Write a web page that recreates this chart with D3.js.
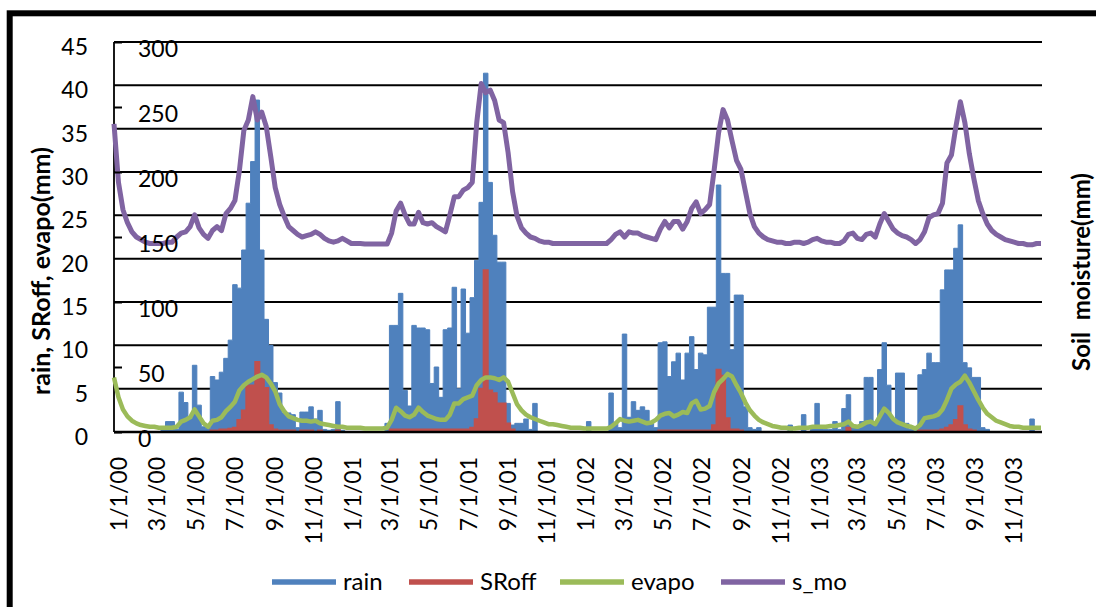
<!DOCTYPE html>
<html>
<head>
<meta charset="utf-8">
<script src="https://cdn.jsdelivr.net/npm/d3@7"></script>
<style>
  html, body { margin: 0; padding: 0; background: #fff; }
  svg { display: block; font-family: Lato, "Open Sans", sans-serif; }
</style>
</head>
<body>
<svg id="chart" width="1096" height="607"></svg>
<script>
// Weekly water-balance series, starting 1 Jan 2000, one value per week.
// rain, SRoff and evapo are in mm (left axis); s_mo is soil moisture in mm (right axis).
const rain2000 = [0,0,0,0,0,0,0,0,0,0,0,0.3,1.2,1.2,0.3,4.6,3.4,1.5,7.7,3.1,0.6,0.4,6.4,6.0,6.9,8.5,10.6,17.0,16.6,21,26.4,31.2,38.3,21,13,10.0,5.7,4.5,2.2,2.2,2.0,0.5,2.3,2.3,2.9,1.5,2.5,0.3,0.2,0.3,3.5,0.2,0];
const rain2001 = [0,0,0,0,0,0,0,0,1.0,12.3,12.3,16.0,4.8,3.0,12.3,12.0,12.0,11.8,5.6,7.5,4.0,11.8,12,16.7,5,16.5,11.4,15.5,19.8,26.5,41.4,28.8,22.7,19.6,19.6,3.3,0.8,1.0,1.0,1.5,0.3,3.3,0,0,0,0,0,0,0,0,0,0];
const rain2002 = [0,1.2,0,0,0,0,4.5,1.0,0.5,11.3,1.7,3.5,2.5,2.9,2.5,1.0,0.5,10.3,10.4,6.4,8.1,9.1,6.0,9.1,11.0,7.2,9.1,8.9,14.4,14.4,28.5,18.3,18.3,9.5,15.8,15.8,2.9,0.5,0.3,0.5,0,0,0,0,0,0,0.8,0,0,2.0,0];
const rain2003 = [0.5,3.3,0.5,0.3,0.3,1.2,0.3,2.7,4.3,0.5,0.5,1.2,6.3,6.3,1.2,7.2,10.3,5.4,1.4,6.8,6.8,1.0,0.3,0.5,6.6,7.2,9.1,8.0,8.0,16.4,18.7,18.7,21.2,23.9,8.0,7.4,6.3,6.3,0.5,0.3,0,0,0,0,0,0,0,0,0,1.5,0,0];

const sroff2000 = [0,0,0,0,0,0,0,0,0,0,0,0,0,0,0,0,0,0,0,0,0,0,0.2,0.2,0.3,0.3,0.4,0.5,1.4,2.5,5.4,5.4,8.1,6.5,5.1,0.8,0.3,0.2,0.2,0.2,0.2,0,0.2,0.2,0.2,0,0.2,0,0,0,0.2,0,0];
const sroff2001 = [0,0,0,0,0,0,0,0,0,0.3,0.3,0.3,0.3,0.3,0.3,0.3,0.3,0.3,0.3,0.3,0.3,0.3,0.3,0.3,0.3,0.3,0.3,0.5,1.5,5.0,18.7,4.8,4.5,3.3,3.3,1.0,0.3,0,0,0,0,0,0,0,0,0,0,0,0,0,0,0];
const sroff2002 = [0,0,0,0,0,0,0,0,0,0,0,0,0,0,0,0,0,0.2,0.2,0.2,0.2,0.2,0.2,0.2,0.2,0.2,0.2,0.2,0.2,0.8,7.2,6.5,1.6,0.3,0.3,0.2,0,0,0,0,0,0,0,0,0,0,0,0,0,0,0];
const sroff2003 = [0,0,0,0,0,0,0,0,0.5,0,0,0,0,0,0,0,0,0,0,0,0,0,0,0,0.2,0.2,0.2,0.2,0.2,0.3,0.5,0.8,1.4,3.0,0.8,0.3,0.2,0,0,0,0,0,0,0,0,0,0,0,0,0,0,0];

const evapo2000 = [6.3,4.0,2.6,1.8,1.3,1.0,0.8,0.7,0.6,0.6,0.5,0.5,0.5,0.5,0.6,1.2,1.4,1.7,2.6,1.8,1.0,0.6,1.3,1.4,1.7,2.4,2.9,3.5,4.8,5.4,5.8,6.1,6.4,6.6,6.3,5.6,4.7,3.2,2.4,1.8,1.6,1.4,1.3,1.3,1.2,1.3,1.0,0.9,0.8,0.7,0.6,0.6,0.5];
const evapo2001 = [0.5,0.5,0.5,0.4,0.4,0.4,0.4,0.4,0.5,1.4,2.8,2.4,1.9,1.7,2.0,2.8,2.3,1.9,1.7,1.5,1.4,1.4,2.0,3.3,3.3,3.8,4.0,4.2,5.4,6.0,6.3,6.3,6.2,6.0,6.3,5.8,4.5,3.2,2.5,2.0,1.7,1.5,1.3,1.1,0.9,0.9,0.8,0.7,0.6,0.5,0.5,0.5];
const evapo2002 = [0.4,0.4,0.4,0.4,0.4,0.4,0.6,1.0,1.5,1.3,1.2,1.3,1.4,1.2,1.0,1.1,1.4,1.9,2.1,2.2,1.8,2.0,2.3,2.2,3.3,3.6,2.6,2.7,3.0,4.6,5.6,6.1,6.7,6.4,5.4,4.5,3.4,2.5,1.9,1.4,1.1,0.9,0.7,0.6,0.5,0.5,0.4,0.4,0.5,0.5,0.5];
const evapo2003 = [0.6,0.6,0.6,0.6,0.7,0.7,0.8,0.9,1.2,0.7,0.6,0.8,1.1,1.2,0.9,1.8,2.7,2.2,1.5,1.1,0.9,0.7,0.6,0.4,0.8,1.6,1.7,1.8,2.0,2.6,3.7,5.0,5.5,5.8,6.5,5.7,4.7,3.7,2.8,2.1,1.7,1.3,1.1,0.9,0.7,0.6,0.6,0.5,0.5,0.5,0.5,0.5];

const smo2000 = [237,192,171,161,154,150,148,146,145,145,145,145,146,146,150,153,154,158,167,157,152,149,155,158,155,168,172,178,201,232,240,258,240,246,235,212,188,175,166,158,155,152,150,151,152,154,152,149,147,146,147,149,147];
const smo2001 = [145,145,145,144.6,144.6,144.6,144.6,144.6,144.6,153,170,176,167,160,160,169,161,160,161,158,156,154,167,181,181,186,188,192,238,268,261,263,255,240,238,215,185,166,157,153,150,149,147,146,146,145,145,145,145,145,145,145];
const smo2002 = [145,145,145,145,145,145,148,152,154,150,154,153,153,151,150,149,148,156,162,157,162,162,156,162,172,177,168,171,175,201,230,248,240,224,209,202,185,168,158,153,150,148,147,146,146,145,145,146,146,145,146];
const smo2003 = [148,149,147,146,146,145,145,147,152,153,149,148,152,153,150,160,168,162,156,153,151,150,148,145,148,154,165,167,168,176,207,213,235,254,238,214,195,178,168,160,155,152,150,148,147,146,145,145,144,144,145,145];

const xTickLabels = ["1/1/00","3/1/00","5/1/00","7/1/00","9/1/00","11/1/00",
                     "1/1/01","3/1/01","5/1/01","7/1/01","9/1/01","11/1/01",
                     "1/1/02","3/1/02","5/1/02","7/1/02","9/1/02","11/1/02",
                     "1/1/03","3/1/03","5/1/03","7/1/03","9/1/03","11/1/03"];
const leftTicks = [0,5,10,15,20,25,30,35,40,45];
const rightTicks = [0,50,100,150,200,250,300];
const seriesNames = ["rain","SRoff","evapo","s_mo"];
const seriesColors = ["#4F81BD","#C0504D","#9BBB59","#8064A2"];

const rain = [].concat(rain2000, rain2001, rain2002, rain2003);
const sroff = [].concat(sroff2000, sroff2001, sroff2002, sroff2003);
const evapo = [].concat(evapo2000, evapo2001, evapo2002, evapo2003);
const smo = [].concat(smo2000, smo2001, smo2002, smo2003);

const start = new Date(2000, 0, 1);
const dates = rain.map((_, i) => d3.timeDay.offset(start, 7 * i));
const rows = dates.map((d, i) => ({ date: d, rain: rain[i], sroff: sroff[i], evapo: evapo[i], smo: smo[i] }));

const plot = { left: 114, right: 1041, gridRight: 1042, top: 42, bottom: 432 };
const svg = d3.select("#chart");

const x = d3.scaleTime().domain([dates[0], dates[dates.length - 1]]).range([plot.left, plot.right]);
const yL = d3.scaleLinear().domain([0, 45]).range([plot.bottom, plot.top]);
const yR = d3.scaleLinear().domain([0, 300]).range([plot.bottom, plot.top]);

// outer chart frame (only its left and top edges fall inside the page)
svg.append("rect")
  .attr("x", 9.7).attr("y", 13.3).attr("width", 1300).attr("height", 800)
  .attr("fill", "none").attr("stroke", "#000").attr("stroke-width", 6);

// horizontal gridlines on the left-axis ticks
svg.append("g").selectAll("line")
  .data(leftTicks.filter(t => t > 0))
  .join("line")
  .attr("x1", plot.left).attr("x2", plot.gridRight)
  .attr("y1", d => yL(d)).attr("y2", d => yL(d))
  .attr("stroke", "#000").attr("stroke-width", 2);

// rain and surface runoff as stepped columns
const stepArea = key => d3.area()
  .curve(d3.curveStep)
  .x(d => x(d.date))
  .y0(yL(0))
  .y1(d => yL(d[key]));

svg.append("path").datum(rows)
  .attr("d", stepArea("rain"))
  .attr("fill", seriesColors[0]).attr("stroke", seriesColors[0]).attr("stroke-width", 1);

svg.append("path").datum(rows)
  .attr("d", stepArea("sroff"))
  .attr("fill", seriesColors[1]).attr("stroke", seriesColors[1]).attr("stroke-width", 1.6);

// axis lines
svg.append("line")
  .attr("x1", plot.left).attr("x2", plot.left)
  .attr("y1", plot.top).attr("y2", plot.bottom)
  .attr("stroke", "#000").attr("stroke-width", 1.8);
svg.append("line")
  .attr("x1", plot.left).attr("x2", plot.gridRight)
  .attr("y1", plot.bottom).attr("y2", plot.bottom)
  .attr("stroke", "#000").attr("stroke-width", 2.4);

// evapotranspiration and soil moisture lines
svg.append("path").datum(rows)
  .attr("d", d3.line().x(d => x(d.date)).y(d => yL(d.evapo)))
  .attr("fill", "none").attr("stroke", seriesColors[2])
  .attr("stroke-width", 4.5).attr("stroke-linejoin", "round");

svg.append("path").datum(rows)
  .attr("d", d3.line().x(d => x(d.date)).y(d => yR(d.smo)))
  .attr("fill", "none").attr("stroke", seriesColors[3])
  .attr("stroke-width", 5).attr("stroke-linejoin", "round");

// left axis labels
const leftAxis = svg.append("g")
  .attr("transform", `translate(${plot.left},0)`)
  .call(d3.axisLeft(yL).tickValues(leftTicks).tickSize(0).tickPadding(26));
leftAxis.select(".domain").remove();
leftAxis.selectAll("text")
  .attr("dy", "0.55em")
  .style("font-family", "Lato, sans-serif").style("font-size", "23px").attr("fill", "#000");

// secondary (soil moisture) axis drawn inside the plot, next to the left axis
const rightAxis = svg.append("g")
  .attr("transform", `translate(${plot.left},0)`)
  .call(d3.axisRight(yR).tickValues(rightTicks).tickSize(8).tickPadding(16));
rightAxis.select(".domain").remove();
rightAxis.selectAll("line").attr("stroke", "#000").attr("stroke-width", 2);
rightAxis.selectAll("text")
  .attr("dy", "0.62em")
  .style("font-family", "Lato, sans-serif").style("font-size", "23px").attr("fill", "#000");

// date axis labels, rotated
const parseTick = d3.timeParse("%m/%d/%y");
const bottomAxis = svg.append("g")
  .attr("transform", `translate(0,${plot.bottom})`)
  .call(d3.axisBottom(x)
    .tickValues(xTickLabels.map(parseTick))
    .tickFormat((d, i) => xTickLabels[i])
    .tickSize(0));
bottomAxis.select(".domain").remove();
bottomAxis.selectAll("text")
  .attr("transform", "rotate(-90)")
  .attr("text-anchor", "end")
  .attr("x", -25).attr("y", 4).attr("dy", "0.35em")
  .style("font-family", "Lato, sans-serif").style("font-size", "23px").attr("fill", "#000");

// axis titles
svg.append("text")
  .attr("transform", "translate(50,271) rotate(-90)")
  .attr("text-anchor", "middle")
  .style("font-family", "Lato, sans-serif").style("font-size", "25px").style("font-weight", "bold")
  .text("rain, SRoff, evapo(mm)");

svg.append("text")
  .attr("transform", "translate(1090,272) rotate(-90)")
  .attr("text-anchor", "middle")
  .style("white-space", "pre")
  .style("font-family", "Lato, sans-serif").style("font-size", "24px").style("font-weight", "bold")
  .text("Soil  moisture(mm)");

// legend
const legendPos = [272, 409, 560, 721];
const legend = svg.append("g").selectAll("g")
  .data(seriesNames)
  .join("g")
  .attr("transform", (d, i) => `translate(${legendPos[i]},582)`);
legend.append("line")
  .attr("x1", 0).attr("x2", 64).attr("y1", 0).attr("y2", 0)
  .attr("stroke", (d, i) => seriesColors[i]).attr("stroke-width", 5.5);
legend.append("text")
  .attr("x", 71).attr("y", 8)
  .style("font-family", "Lato, sans-serif").style("font-size", "24px")
  .text(d => d);
</script>
</body>
</html>
